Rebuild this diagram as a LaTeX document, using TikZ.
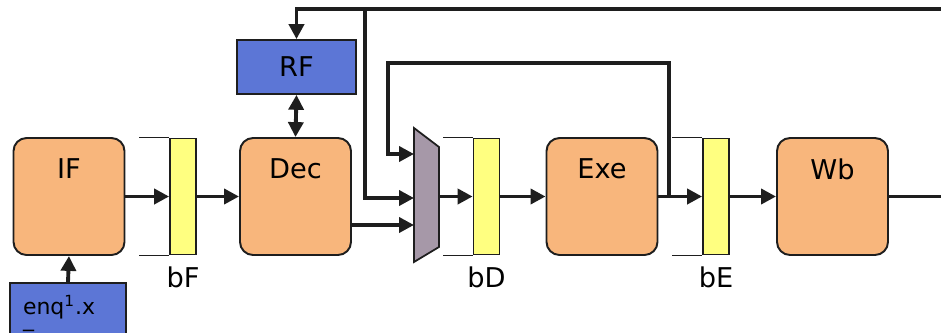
\documentclass[tikz,border=0pt]{standalone}
\usepackage{fontspec}
\setmainfont{DejaVu Sans}
\usetikzlibrary{arrows.meta, positioning, calc}
\definecolor{SO}{RGB}{248,182,124}
\definecolor{SB}{RGB}{92,118,214}
\definecolor{SY}{RGB}{255,255,128}
\definecolor{SM}{RGB}{166,152,168}
\definecolor{DG}{RGB}{30,30,30}
\newcommand{\stagefont}{\fontsize{15.5}{18}\selectfont}
\newcommand{\smallfont}{\fontsize{12.5}{15}\selectfont}

\begin{document}
\begin{tikzpicture}[x=0.02cm, y=-0.02cm,
  stage/.style={draw=DG, line width=1.1pt, rounded corners=0.26cm, fill=SO,
                minimum width=2.22cm, minimum height=2.34cm,
                label={[anchor=center, yshift=-0.64cm, font=\stagefont]north:#1}},
  reg/.style={draw=DG, line width=1pt, fill=SY, inner sep=0pt,
              minimum width=0.52cm, minimum height=2.32cm,
              label={[anchor=center, yshift=-0.44cm, font=\stagefont]south:#1}},
  regfile/.style={draw=DG, line width=1pt, fill=SB},
  brk/.style={draw=DG, line width=0.8pt},
  wire/.style={draw=DG, line width=2.2pt},
  arr/.style={wire, -{Triangle[length=8.5pt, width=8.5pt]}},
  dbl/.style={wire, {Triangle[length=8.5pt, width=8.5pt]}-{Triangle[length=8.5pt, width=8.5pt]}}
]
\useasboundingbox (0,0) rectangle (941,332);

% pipeline stages
\node[stage=IF]  (if)  at (69,196.5)  {};
\node[stage=Dec] (dec) at (295.5,196.5) {};
\node[stage=Exe] (exe) at (602,196.5) {};
\node[stage=Wb]  (wb)  at (832.5,196.5) {};

% pipeline registers
\node[reg=bF] (bf) at (183,196.5) {};
\node[reg=bD] (bd) at (486.5,196.5) {};
\node[reg=bE] (be) at (716,196.5) {};
\foreach \r in {bf, bd, be} {
  \draw[brk] (\r.north west) -- ++(-30,0);
  \draw[brk] (\r.south west) -- ++(-30,0);
}

% register file and queue
\node[regfile, minimum width=2.38cm, minimum height=1.08cm, font=\stagefont]
  (rf) at (296.5,67) {RF};
\node[regfile, anchor=north, align=left, font=\smallfont,
      inner xsep=0.26cm, inner ysep=0.25cm, text width=1.8cm]
  (enq) at (68,282) {enq\textsuperscript{1}.x\\[-8pt]\_};

% bypass mux
\draw[draw=DG, line width=1pt, fill=SM]
  (414,128) -- (439,147) -- (439,247) -- (414,262) -- cycle;
\coordinate (muxa) at (414,154);
\coordinate (muxb) at (414,198);
\coordinate (muxc) at (414,225);
\coordinate (muxo) at (439,196.5);

% forward path
\draw[arr] (enq.north) -- (if.south);
\draw[arr] (if.east) -- (bf.west);
\draw[arr] (bf.east) -- (dec.west);
\draw[dbl] (rf.south) -- (dec.north);
\draw[arr] (dec.east |- muxc) -- (muxc);
\draw[arr] (muxo) -- (bd.west |- muxo);
\draw[arr] (bd.east) -- (exe.west);
\draw[arr] (exe.east) -- (be.west);
\draw[arr] (be.east) -- (wb.west);
\coordinate (wbo) at (945,196.5);
\draw[wire] (wb.east) -- (wbo);

% writeback and bypass paths
\coordinate (fbt)  at (945,9);
\coordinate (tapa) at (365,9);
\draw[arr] (fbt) -| (rf.north);
\draw[arr] (tapa) |- (muxb);
\coordinate (tapb) at (669,196.5);
\coordinate (fbb)  at (388,63);
\draw[arr] (tapb) |- (fbb) |- (muxa);
\end{tikzpicture}
\end{document}
